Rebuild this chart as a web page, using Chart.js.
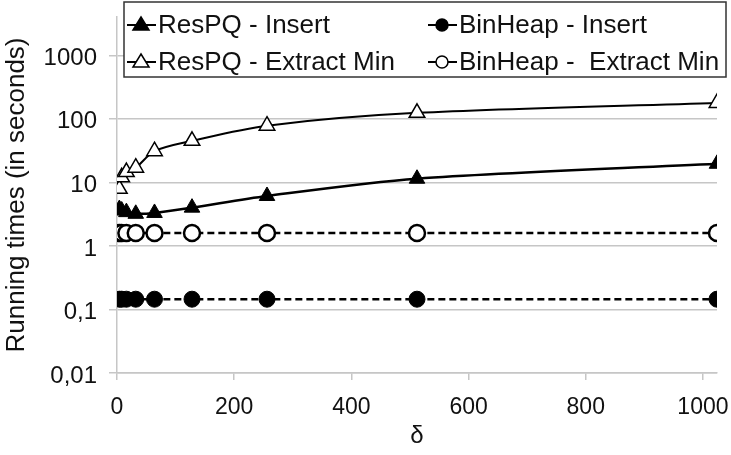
<!DOCTYPE html>
<html>

<head>
  <title>Running times</title>
  <script src="https://cdn.jsdelivr.net/npm/chart.js"></script>
  <style>
    body { margin: 0; background: #fff; }
  </style>
</head>

<body>
  <canvas id="runChart" width="731" height="455"></canvas>
  <script>
    // delta values on the x axis
    const deltas = [4, 8, 16, 32, 64, 128, 256, 512, 1024];
    // running times in seconds
    const respqInsert = [3.8, 3.6, 3.4, 3.2, 3.3, 4.0, 6.1, 11.4, 19.6];
    const respqExtract = [7.9, 12, 14.5, 17, 31, 45, 78, 124, 178];
    const binheapInsert = [0.145, 0.145, 0.145, 0.145, 0.145, 0.145, 0.145, 0.145, 0.145];
    const binheapExtract = [1.6, 1.6, 1.6, 1.6, 1.6, 1.6, 1.6, 1.6, 1.6];

    const xTicks = [0, 200, 400, 600, 800, 1000];
    const yTicks = [0.01, 0.1, 1, 10, 100, 1000];
    const yTickLabels = ['0,01', '0,1', '1', '10', '100', '1000'];

    const FONT = "'Liberation Sans', Arial, sans-serif";
    const GRID = '#c6c6c6';

    const pts = arr => deltas.map((d, i) => ({ x: d, y: arr[i] }));

    // legend drawn inside the plot, boxed like the original
    const boxLegend = {
      id: 'boxLegend',
      afterDraw(chart) {
        const ctx = chart.ctx;
        const left = 124, top = 2, right = 726, bottom = 77;
        ctx.save();
        ctx.fillStyle = '#fff';
        ctx.fillRect(left, top, right - left, bottom - top);
        ctx.strokeStyle = '#333';
        ctx.lineWidth = 1.5;
        ctx.strokeRect(left, top, right - left, bottom - top);

        const order = [0, 2, 1, 3];
        const cols = [127, 428];
        const rows = [25, 62];
        ctx.font = '26px ' + FONT;
        ctx.textBaseline = 'middle';
        order.forEach((di, k) => {
          const ds = chart.data.datasets[di];
          const x0 = cols[k % 2], y = rows[Math.floor(k / 2)];
          const tri = ds.pointStyle === 'triangle';
          ctx.strokeStyle = '#000';
          ctx.lineWidth = 2;
          ctx.setLineDash([]);
          ctx.beginPath();
          ctx.moveTo(x0, y);
          ctx.lineTo(x0 + 29, y);
          ctx.stroke();
          ctx.fillStyle = ds.pointBackgroundColor;
          ctx.lineWidth = 1.5;
          ctx.beginPath();
          if (tri) {
            ctx.moveTo(x0 + 14, y - 8);
            ctx.lineTo(x0 + 14 + 8, y + 5);
            ctx.lineTo(x0 + 14 - 8, y + 5);
          } else {
            ctx.arc(x0 + 14, y, 6, 0, Math.PI * 2);
          }
          ctx.closePath();
          ctx.fill();
          ctx.stroke();
          ctx.fillStyle = '#111';
          ctx.fillText(ds.label, x0 + 31, y + 1);
        });
        ctx.restore();
      }
    };

    const ctx = document.getElementById('runChart').getContext('2d');
    const chart = new Chart(ctx, {
      type: 'line',
      data: {
        datasets: [{
          label: 'ResPQ - Insert',
          data: pts(respqInsert),
          borderColor: '#000',
          borderWidth: 2.5,
          pointStyle: 'triangle',
          pointRadius: 9,
          pointBackgroundColor: '#000',
          pointBorderColor: '#000',
          pointBorderWidth: 1,
          tension: 0.3
        }, {
          label: 'ResPQ - Extract Min',
          data: pts(respqExtract),
          borderColor: '#000',
          borderWidth: 2,
          pointStyle: 'triangle',
          pointRadius: 9,
          pointBackgroundColor: '#fff',
          pointBorderColor: '#000',
          pointBorderWidth: 1.5,
          tension: 0.3
        }, {
          label: 'BinHeap - Insert',
          data: pts(binheapInsert),
          borderColor: '#000',
          borderWidth: 2.5,
          borderDash: [7, 4],
          pointStyle: 'circle',
          pointRadius: 8,
          pointBackgroundColor: '#000',
          pointBorderColor: '#000',
          pointBorderWidth: 1
        }, {
          label: 'BinHeap -  Extract Min',
          data: pts(binheapExtract),
          borderColor: '#000',
          borderWidth: 2.5,
          borderDash: [7, 4],
          pointStyle: 'circle',
          pointRadius: 8,
          pointBackgroundColor: '#fff',
          pointBorderColor: '#000',
          pointBorderWidth: 2.5
        }]
      },
      options: {
        responsive: false,
        animation: false,
        layout: { padding: { top: 17, right: 14, left: 0, bottom: 0 } },
        plugins: {
          legend: { display: false },
          tooltip: { enabled: false }
        },
        scales: {
          x: {
            type: 'linear',
            min: 0,
            max: 1024,
            afterBuildTicks: s => { s.ticks = xTicks.map(v => ({ value: v })); },
            afterFit: s => { s.height = 82; s.paddingLeft = 0; s.paddingRight = 0; },
            grid: { drawOnChartArea: false, color: GRID, lineWidth: 1.5, tickLength: 7 },
            border: { color: GRID, width: 1.5 },
            ticks: {
              font: { family: FONT, size: 23 },
              color: '#111',
              padding: 14,
              maxRotation: 0,
              callback: v => String(v)
            },
            title: { display: true, text: 'δ', font: { family: FONT, size: 24 }, color: '#111', padding: { top: 0, bottom: 4 } }
          },
          y: {
            type: 'logarithmic',
            min: 0.01,
            max: 4000,
            afterBuildTicks: s => { s.ticks = yTicks.map(v => ({ value: v })); },
            afterFit: s => { s.width = 117; s.paddingTop = 0; s.paddingBottom = 0; },
            grid: { color: GRID, lineWidth: 1.5, tickLength: 8 },
            border: { color: GRID, width: 1.5 },
            ticks: {
              font: { family: FONT, size: 24 },
              color: '#111',
              padding: 12,
              labelOffset: 3,
              callback: (v, i) => yTickLabels[i]
            },
            title: { display: true, text: 'Running times (in seconds)', font: { family: FONT, size: 26 }, color: '#111', padding: { top: 1, bottom: 0 } }
          }
        }
      },
      plugins: [boxLegend]
    });
  </script>
</body>

</html>
